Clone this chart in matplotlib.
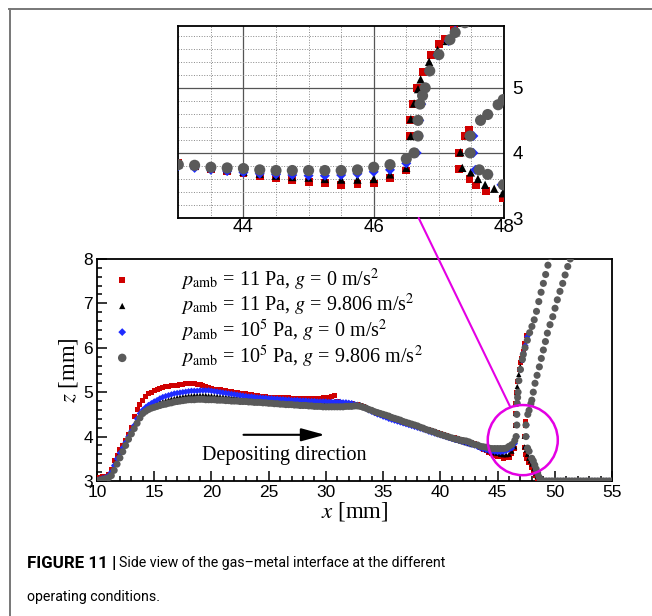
import numpy as np
import matplotlib
matplotlib.use('Agg')
import matplotlib.pyplot as plt
from matplotlib.patches import Ellipse, ConnectionPatch
from matplotlib.ticker import MultipleLocator

plt.rcParams['mathtext.fontset'] = 'stix'
SERIF = 'Liberation Serif'
SANS = 'Liberation Sans'

# sampling grid of the deposit surface, 0.25 mm spacing
x_base = np.linspace(10.0, 46.5, 147)

# p_amb = 11 Pa, g = 0
red_z = [3.05, 3.07, 3.09, 3.10,  3.14, 3.25, 3.45, 3.58,  3.70, 3.80, 3.92, 4.05,
         4.20, 4.45, 4.60, 4.72,  4.81, 4.90, 4.96, 5.00,  5.03, 5.06, 5.08, 5.10,
         5.12, 5.13, 5.14, 5.15,  5.16, 5.17, 5.18, 5.19,  5.19, 5.20, 5.19, 5.18,
         5.17, 5.15, 5.13, 5.11,  5.09, 5.07, 5.06, 5.05,  5.04, 5.03, 5.02, 5.01,
         5.00, 4.99, 4.98, 4.97,  4.96, 4.95, 4.94, 4.93,  4.92, 4.91, 4.90, 4.90,
         4.89, 4.89, 4.88, 4.88,  4.87, 4.87, 4.87, 4.87,  4.86, 4.86, 4.86, 4.86,
         4.86, 4.86, 4.86, 4.86,  4.86, 4.86, 4.86, 4.87,  4.87, 4.88, 4.90, 4.92,
         4.80, 4.76, 4.75, 4.75,  4.74, 4.74, 4.73, 4.72,  4.70, 4.68, 4.65, 4.62,
         4.59, 4.56, 4.53, 4.51,  4.48, 4.46, 4.44, 4.41,  4.39, 4.37, 4.35, 4.33,
         4.31, 4.29, 4.27, 4.25,  4.23, 4.21, 4.19, 4.17,  4.15, 4.13, 4.11, 4.09,
         4.07, 4.05, 4.03, 4.01,  3.99, 3.97, 3.95, 3.93,  3.91, 3.89, 3.87, 3.86,
         3.85, 3.80, 3.75, 3.72,  3.69, 3.65, 3.62, 3.58,  3.55, 3.54, 3.51, 3.52,
         3.53, 3.61, 3.73]
red_rise_x = [46.56, 46.56, 46.60, 46.66, 46.75, 46.88, 47.00, 47.10, 47.23, 47.38, 47.55]
red_rise_z = [4.26, 4.51, 4.75, 5.00, 5.24, 5.50, 5.67, 5.75, 5.92, 6.10, 6.28]
red_tail_x = [47.31, 47.31, 47.40, 47.46, 47.47, 47.57, 47.73, 47.98, 48.15, 48.30, 48.45, 48.60]
red_tail_z = [4.00, 3.75, 4.26, 4.35, 3.60, 3.50, 3.41, 3.30, 3.20, 3.12, 3.05, 3.00]

# p_amb = 11 Pa, g = 9.806
black_z = [3.03, 3.05, 3.07, 3.09,  3.12, 3.22, 3.38, 3.52,  3.65, 3.76, 3.88, 4.00,
           4.12, 4.24, 4.36, 4.47,  4.56, 4.61, 4.65, 4.69,  4.72, 4.75, 4.77, 4.79,
           4.81, 4.83, 4.85, 4.86,  4.88, 4.89, 4.90, 4.91,  4.92, 4.92, 4.93, 4.93,
           4.93, 4.93, 4.93, 4.92,  4.92, 4.91, 4.91, 4.90,  4.90, 4.89, 4.89, 4.88,
           4.88, 4.88, 4.87, 4.87,  4.86, 4.86, 4.86, 4.85,  4.85, 4.85, 4.84, 4.84,
           4.84, 4.83, 4.83, 4.83,  4.82, 4.82, 4.82, 4.81,  4.81, 4.81, 4.80, 4.80,
           4.80, 4.80, 4.79, 4.79,  4.79, 4.79, 4.78, 4.78,  4.78, 4.78, 4.77, 4.77,
           4.77, 4.77, 4.76, 4.76,  4.76, 4.75, 4.74, 4.73,  4.72, 4.70, 4.67, 4.64,
           4.61, 4.58, 4.55, 4.52,  4.49, 4.47, 4.45, 4.42,  4.40, 4.38, 4.36, 4.33,
           4.31, 4.30, 4.28, 4.26,  4.24, 4.22, 4.20, 4.18,  4.15, 4.13, 4.10, 4.08,
           4.05, 4.03, 4.01, 3.98,  3.96, 3.94, 3.92, 3.90,  3.88, 3.86, 3.84, 3.82,
           3.82, 3.80, 3.77, 3.75,  3.71, 3.68, 3.65, 3.63,  3.62, 3.60, 3.59, 3.59,
           3.60, 3.67, 3.77]
black_rise_x = [46.57, 46.57, 46.62, 46.68, 46.72, 46.85, 46.98, 47.12, 47.26, 47.42, 47.58]
black_rise_z = [4.26, 4.52, 4.76, 4.98, 5.13, 5.40, 5.58, 5.72, 5.88, 6.05, 6.22]
black_tail_x = [47.33, 47.36, 47.45, 47.49, 47.60, 47.71, 47.85, 47.98, 48.15, 48.30, 48.45, 48.60]
black_tail_z = [4.01, 3.77, 4.28, 3.70, 3.60, 3.51, 3.45, 3.38, 3.28, 3.18, 3.10, 3.03]

# p_amb = 1e5 Pa, g = 0
blue_z = [3.02, 3.04, 3.06, 3.08,  3.12, 3.20, 3.35, 3.50,  3.63, 3.75, 3.87, 4.00,
          4.12, 4.25, 4.40, 4.52,  4.60, 4.66, 4.71, 4.75,  4.79, 4.82, 4.86, 4.89,
          4.91, 4.93, 4.95, 4.97,  4.98, 4.99, 5.00, 5.01,  5.02, 5.03, 5.03, 5.03,
          5.04, 5.04, 5.04, 5.04,  5.03, 5.02, 5.01, 5.00,  4.99, 4.98, 4.97, 4.96,
          4.95, 4.94, 4.93, 4.92,  4.91, 4.90, 4.90, 4.89,  4.88, 4.88, 4.87, 4.87,
          4.86, 4.86, 4.85, 4.85,  4.84, 4.84, 4.83, 4.83,  4.82, 4.82, 4.82, 4.81,
          4.81, 4.81, 4.80, 4.80,  4.80, 4.79, 4.79, 4.79,  4.79, 4.78, 4.78, 4.78,
          4.78, 4.78, 4.77, 4.77,  4.76, 4.75, 4.73, 4.71,  4.69, 4.66, 4.63, 4.59,
          4.56, 4.53, 4.50, 4.48,  4.45, 4.43, 4.40, 4.38,  4.36, 4.34, 4.32, 4.30,
          4.28, 4.26, 4.24, 4.22,  4.20, 4.18, 4.16, 4.14,  4.11, 4.09, 4.07, 4.05,
          4.03, 4.01, 3.99, 3.97,  3.95, 3.93, 3.92, 3.90,  3.88, 3.86, 3.84, 3.82,
          3.80, 3.77, 3.74, 3.72,  3.70, 3.68, 3.67, 3.66,  3.65, 3.65, 3.66, 3.68,
          3.71, 3.74, 3.84]
blue_rise_x = [46.66, 46.69, 46.70, 46.73, 46.78, 46.85, 46.98, 47.15, 47.25, 47.42, 47.60]
blue_rise_z = [4.00, 4.26, 4.50, 4.75, 5.00, 5.25, 5.50, 5.72, 5.88, 6.05, 6.25]
blue_tail_x = [47.53, 47.53, 47.56, 47.76, 47.96, 48.10, 48.25, 48.40, 48.55, 48.70]
blue_tail_z = [4.26, 4.00, 3.74, 3.67, 3.51, 3.42, 3.32, 3.22, 3.12, 3.04]

# p_amb = 1e5 Pa, g = 9.806
grey_z = [3.00, 3.02, 3.03, 3.05,  3.07, 3.12, 3.24, 3.38,  3.52, 3.66, 3.80, 3.94,
          4.06, 4.18, 4.30, 4.42,  4.52, 4.57, 4.61, 4.64,  4.66, 4.68, 4.70, 4.72,
          4.73, 4.75, 4.76, 4.78,  4.79, 4.80, 4.81, 4.82,  4.83, 4.83, 4.83, 4.84,
          4.84, 4.84, 4.83, 4.83,  4.83, 4.83, 4.82, 4.82,  4.82, 4.81, 4.81, 4.80,
          4.80, 4.80, 4.79, 4.79,  4.79, 4.78, 4.78, 4.77,  4.77, 4.77, 4.76, 4.76,
          4.75, 4.75, 4.74, 4.74,  4.73, 4.73, 4.72, 4.72,  4.72, 4.71, 4.71, 4.70,
          4.70, 4.70, 4.69, 4.69,  4.68, 4.68, 4.68, 4.67,  4.67, 4.67, 4.67, 4.67,
          4.67, 4.67, 4.67, 4.68,  4.68, 4.68, 4.69, 4.69,  4.68, 4.66, 4.64, 4.61,
          4.59, 4.56, 4.54, 4.52,  4.50, 4.48, 4.46, 4.43,  4.41, 4.39, 4.37, 4.34,
          4.32, 4.30, 4.28, 4.26,  4.24, 4.21, 4.19, 4.16,  4.14, 4.12, 4.10, 4.07,
          4.05, 4.03, 4.01, 3.99,  3.97, 3.95, 3.94, 3.92,  3.91, 3.90, 3.88, 3.85,
          3.82, 3.81, 3.78, 3.77,  3.76, 3.74, 3.73, 3.73,  3.73, 3.73, 3.73, 3.74,
          3.78, 3.82, 3.91]
grey_rise_x = [46.62, 46.68, 46.68, 46.71, 46.75, 46.79, 46.86, 47.00, 47.17, 47.25,
               47.40, 47.60, 47.80, 48.00, 48.20, 48.40, 48.60, 48.80, 49.00, 49.20,
               49.40, 49.60]
grey_rise_z = [4.00, 4.26, 4.50, 4.75, 4.88, 5.00, 5.26, 5.51, 5.74, 5.85,
               6.00, 6.17, 6.34, 6.48, 6.63, 6.82, 7.04, 7.25, 7.45, 7.65,
               7.86, 8.06]
grey_up_x = [47.48, 47.64, 47.75, 47.91, 47.99, 48.12, 48.27, 48.45, 48.65, 48.82,
             49.00, 49.18, 49.35, 49.58, 49.82, 50.02, 50.22, 50.45, 50.69, 50.90,
             51.13, 51.35, 51.58]
grey_up_z = [4.26, 4.50, 4.59, 4.74, 4.82, 5.00, 5.20, 5.38, 5.57, 5.76,
             5.95, 6.14, 6.33, 6.52, 6.70, 6.89, 7.08, 7.27, 7.45, 7.64,
             7.83, 8.00, 8.18]
grey_tail_x = [47.48, 47.62, 47.75, 47.99, 48.12, 48.25, 48.37, 48.50, 48.62, 48.75]
grey_tail_z = [4.00, 3.74, 3.67, 3.51, 3.45, 3.36, 3.27, 3.18, 3.09, 3.02]

# substrate surface right of the deposit
x_flat = [49.00, 49.25, 49.50, 49.75, 50.00, 50.25, 50.50, 50.75, 51.00, 51.25,
          51.50, 51.75, 52.00, 52.25, 52.50, 52.75, 53.00, 53.25, 53.50, 53.75,
          54.00, 54.25, 54.50, 54.75, 55.00]
z_flat = [3.0] * len(x_flat)

labels = [r'$p_{\mathrm{amb}}$ = 11 Pa, $g$ = 0 m/s$^2$',
          r'$p_{\mathrm{amb}}$ = 11 Pa, $g$ = 9.806 m/s$^2$',
          r'$p_{\mathrm{amb}}$ = 10$^5$ Pa, $g$ = 0 m/s$^2$',
          r'$p_{\mathrm{amb}}$ = 10$^5$ Pa, $g$ = 9.806 m/s$^2$']

series = [
    (red_z, red_rise_x, red_rise_z, red_tail_x, red_tail_z),
    (black_z, black_rise_x, black_rise_z, black_tail_x, black_tail_z),
    (blue_z, blue_rise_x, blue_rise_z, blue_tail_x, blue_tail_z),
    (grey_z, grey_rise_x + grey_up_x, grey_rise_z + grey_up_z, grey_tail_x, grey_tail_z),
]
colors = ['#d00000', '#000000', '#1f2cff', '#5a5a5a']
markers = ['s', '^', 'D', 'o']
size_main = [13, 14, 11, 26]
size_ins = [32, 36, 26, 64]


def series_xy(s):
    zb, rx, rz, tx, tz = s
    x = np.concatenate([x_base, rx, tx, x_flat])
    z = np.concatenate([zb, rz, tz, z_flat])
    return x, z


fig = plt.figure(figsize=(6.52, 6.16), dpi=100)

# main axes
ax = fig.add_axes([0.1488, 0.2192, 0.7899, 0.3604])
handles = []
for s, c, m, sz, lab in zip(series, colors, markers, size_main, labels):
    x, z = series_xy(s)
    h = ax.scatter(x, z, s=sz, marker=m, color=c, edgecolors='none', label=lab, zorder=3)
    handles.append(h)

ax.set_xlim(10, 55)
ax.set_ylim(3, 8)
ax.xaxis.set_major_locator(MultipleLocator(5))
ax.xaxis.set_minor_locator(MultipleLocator(1))
ax.yaxis.set_major_locator(MultipleLocator(1))
ax.yaxis.set_minor_locator(MultipleLocator(0.2))
ax.tick_params(which='both', direction='in', top=False, right=False, width=1.1)
ax.tick_params(which='major', length=7, labelsize=12.5, pad=3)
ax.tick_params(which='minor', length=3.5)
for lab in ax.get_xticklabels() + ax.get_yticklabels():
    lab.set_family(SANS)
for sp in ax.spines.values():
    sp.set_linewidth(1.3)

ax.set_xlabel(r'$x$ [mm]', fontsize=16.5, family=SERIF)
ax.set_ylabel(r'$z$ [mm]', fontsize=16.5, family=SERIF)
ax.xaxis.set_label_coords(0.5, -0.085)
ax.yaxis.set_label_coords(-0.034, 0.5)

leg = ax.legend(handles=handles, loc='upper left', bbox_to_anchor=(0.002, 1.03),
                frameon=False, prop={'family': SERIF, 'size': 14.5}, markerscale=1.2,
                handletextpad=2.4, labelspacing=-0.02, borderpad=0.2, handlelength=1.0)

ax.annotate('', xy=(29.9, 4.04), xytext=(22.8, 4.04),
            arrowprops=dict(arrowstyle='-|>,head_length=0.8,head_width=0.22',
                            color='black', lw=1.5, mutation_scale=18, shrinkA=0, shrinkB=0))
ax.text(26.35, 3.57, 'Depositing direction', fontsize=14.5, family=SERIF,
        ha='center', va='center')

magenta = '#e400e4'
ax.add_patch(Ellipse((47.2, 3.92), width=6.12, height=1.58, fill=False,
                     edgecolor=magenta, lw=1.8, zorder=5, clip_on=False))

# inset
axins = fig.add_axes([0.2735, 0.6461, 0.4995, 0.3117])
for s, c, m, sz in zip(series, colors, markers, size_ins):
    x, z = series_xy(s)
    axins.scatter(x, z, s=sz, marker=m, color=c, edgecolors='none', zorder=3)
axins.set_xlim(43, 48)
axins.set_ylim(3, 5.95)
axins.xaxis.set_major_locator(MultipleLocator(2))
axins.xaxis.set_minor_locator(MultipleLocator(0.5))
axins.yaxis.set_major_locator(MultipleLocator(1))
axins.yaxis.set_minor_locator(MultipleLocator(0.2))
axins.yaxis.tick_right()
axins.tick_params(which='both', length=0, labelsize=13.5)
axins.tick_params(axis='x', pad=0.5)
axins.tick_params(axis='y', pad=6)
for lab in axins.get_xticklabels() + axins.get_yticklabels():
    lab.set_family(SANS)
axins.grid(which='major', color='#555555', lw=0.9, ls='-')
axins.grid(which='minor', color='#888888', lw=0.7, ls=':')
axins.set_axisbelow(True)
for sp in axins.spines.values():
    sp.set_linewidth(1.3)

con = ConnectionPatch(xyA=(46.69, 3.0), coordsA=axins.transData,
                      xyB=(46.1, 4.67), coordsB=ax.transData,
                      color=magenta, lw=1.5, zorder=6)
fig.add_artist(con)

# page frame
fig.add_artist(plt.Line2D([0.0138, 1.0], [0.9862, 0.9862], color='#777777', lw=1.4))
fig.add_artist(plt.Line2D([0.0146, 0.0146], [0.0, 0.9862], color='#777777', lw=1.4))

# caption
cap_font = ['Roboto', 'Liberation Sans']
t1 = fig.text(0.041, 0.086, 'FIGURE 11 |', fontsize=12.2, fontweight='bold',
              family=cap_font, va='center', ha='left')
fig.canvas.draw()
bb = t1.get_window_extent(fig.canvas.get_renderer())
x1 = bb.x1 / fig.bbox.width
fig.text(x1 + 0.005, 0.086, 'Side view of the gas\u2013metal interface at the different',
         fontsize=10.2, family=cap_font, va='center', ha='left')
fig.text(0.041, 0.031, 'operating conditions.', fontsize=10.2, family=cap_font,
         va='center', ha='left')

fig.savefig('out.png', dpi=100)
